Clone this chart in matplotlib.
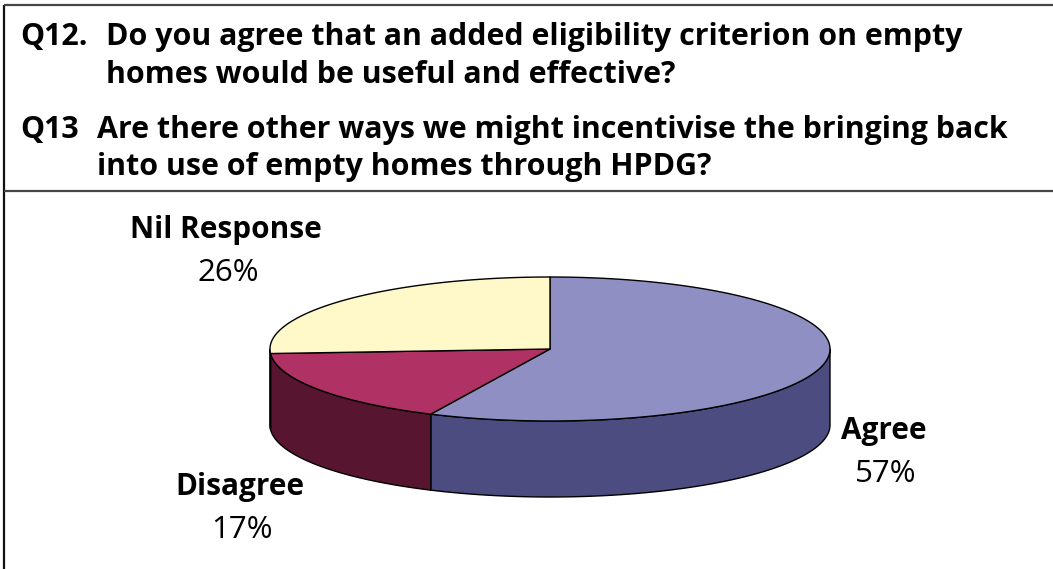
import numpy as np
import matplotlib
matplotlib.use("Agg")
import matplotlib.pyplot as plt
from matplotlib.patches import Polygon

# ---- data -------------------------------------------------------------
categories = ["Agree", "Disagree", "Nil Response"]
shares = [57, 17, 26]
pct_labels = ["57%", "17%", "26%"]

question_ids = ["Q12.", "Q13"]
question_text = [
    ["Do you agree that an added eligibility criterion on empty",
     "homes would be useful and effective?"],
    ["Are there other ways we might incentivise the bringing back",
     "into use of empty homes through HPDG?"],
]

# ---- styling ----------------------------------------------------------
top_colors = ["#8F8FC4", "#B03264", "#FFF8C8"]
side_colors = ["#4C4C80", "#581530", "#BDB68A"]
FONT = "Open Sans"
HEAD_SIZE = 21.9
LABEL_SIZE = 21.4
PCT_SIZE = 22.5

W, H = 1053, 569
fig = plt.figure(figsize=(W / 100, H / 100), dpi=100)
ax = fig.add_axes([0, 0, 1, 1])
ax.set_xlim(0, W)
ax.set_ylim(H, 0)
ax.axis("off")

# frame around the question block and chart
ax.plot([4, 4], [5, H], color="#111111", lw=1.6, solid_capstyle="butt")
ax.plot([4, W], [5, 5], color="#444444", lw=1.6, solid_capstyle="butt")
ax.plot([4, W], [191, 191], color="#444444", lw=1.6, solid_capstyle="butt")

# question header
q_x = 20
body_x = [106, 97]
baselines = [[45, 83], [138, 175]]
for qid, lines, bx, bl in zip(question_ids, question_text, body_x, baselines):
    ax.text(q_x, bl[0], qid, fontsize=HEAD_SIZE, fontweight="bold",
            family=FONT, va="baseline", ha="left", color="black")
    for line, y in zip(lines, bl):
        ax.text(bx, y, line, fontsize=HEAD_SIZE, fontweight="bold",
                family=FONT, va="baseline", ha="left", color="black")

# ---- 3D pie -----------------------------------------------------------
cx, cy, a, b, depth = 550, 349, 280, 72, 76


def ellipse_pts(t0, t1, dy=0.0, n=200):
    t = np.radians(np.linspace(t0, t1, n))
    return np.column_stack([cx + a * np.cos(t), cy - b * np.sin(t) + dy])


total = float(sum(shares))
starts, ends = [], []
ang = 90.0
for v in shares:
    starts.append(ang)
    ang -= v / total * 360.0
    ends.append(ang)

# visible side walls (front half of the disc)
for s, e, col in zip(starts, ends, side_colors):
    lo, hi = max(e, -180.0), min(s, 0.0)
    if hi <= lo:
        continue
    upper = ellipse_pts(hi, lo)
    lower = ellipse_pts(lo, hi, dy=depth)
    ax.add_patch(Polygon(np.vstack([upper, lower]), closed=True,
                         facecolor=col, edgecolor="black", lw=1.0,
                         joinstyle="round"))

# top faces
for s, e, col in zip(starts, ends, top_colors):
    arc = ellipse_pts(s, e)
    ax.add_patch(Polygon(np.vstack([[cx, cy], arc]), closed=True,
                         facecolor=col, edgecolor="black", lw=1.0,
                         joinstyle="round"))

# slice labels
label_pos = {"Agree": (884, 439), "Disagree": (240, 495),
             "Nil Response": (226, 238)}
for name, pct in zip(categories, pct_labels):
    x, y = label_pos[name]
    ax.text(x, y, name, fontsize=LABEL_SIZE, fontweight="bold", family=FONT,
            ha="center", va="baseline", color="black")
    ax.text(x + 2, y + 43, pct, fontsize=PCT_SIZE, family=FONT,
            ha="center", va="baseline", color="black")

fig.savefig("out.png", dpi=100, facecolor="white")
